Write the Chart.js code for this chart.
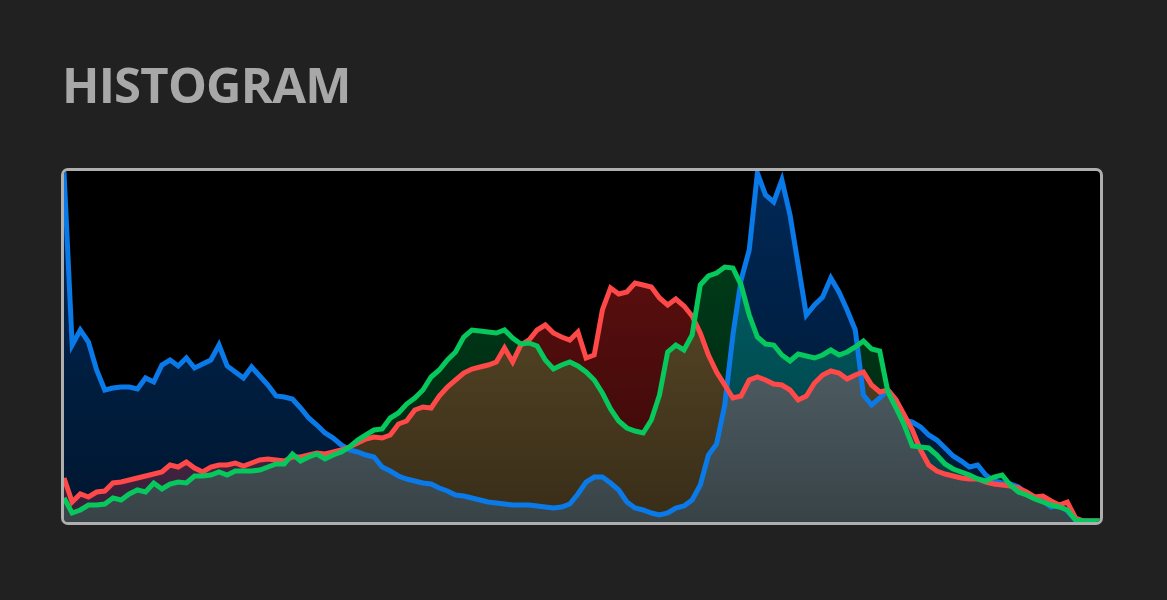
<!DOCTYPE html>
<html>
<head>
<meta charset="utf-8">
<script src="https://cdn.jsdelivr.net/npm/chart.js@4"></script>
<style>
  html, body { margin: 0; padding: 0; background: #212121; }
  body { width: 1167px; height: 600px; position: relative; overflow: hidden; }
  .title {
    position: absolute; left: 62px; top: 59px;
    font-family: "Open Sans", "Noto Sans", sans-serif;
    font-weight: 700; font-size: 49px; line-height: 50px;
    color: #a8a8a8; letter-spacing: -0.8px;
  }
  .frame {
    position: absolute; left: 61px; top: 168px;
    width: 1042px; height: 357px; box-sizing: border-box;
    border: 3px solid #aeaeae; border-radius: 7px;
    background: #000; overflow: hidden;
  }
  .frame canvas { display: block; }
</style>
</head>
<body>
<div class="title">HISTOGRAM</div>
<div class="frame"><canvas id="chartHistogram" width="1036" height="351"></canvas></div>
<script>
// 128 bins, values (pixel height above the baseline)
const bins = Array.from({ length: 128 }, (_, i) => i);

const blueValues = [
  349, 176, 191, 179, 151, 131, 133, 134, 134, 132,
  143, 139, 156, 161, 155, 163, 153, 157, 161, 176,
  155, 149, 143, 154, 145, 136, 125, 124, 122, 113,
  103, 96, 88, 83, 76, 71, 69, 66, 64, 54,
  50, 45, 42, 40, 38, 37, 33, 30, 26, 25,
  23, 21, 19, 18, 17, 16, 16, 16, 15, 14,
  13, 14, 17, 27, 39, 44, 44, 38, 31, 19,
  13, 11, 8, 6, 8, 13, 15, 21, 36, 66,
  77, 116, 186, 241, 271, 348, 326, 319, 341, 306,
  256, 206, 216, 224, 243, 229, 211, 191, 126, 116,
  123, 131, 121, 101, 99, 94, 86, 81, 73, 65,
  60, 54, 56, 46, 40, 38, 37, 34, 27, 24,
  20, 14, 16, 10, 1, 0, 0, 0,
];

const redValues = [
  43, 19, 27, 24, 29, 30, 38, 39, 41, 43,
  45, 47, 49, 56, 54, 59, 53, 49, 54, 56,
  56, 58, 55, 58, 61, 62, 61, 60, 64, 64,
  66, 68, 67, 69, 71, 74, 78, 82, 84, 83,
  86, 97, 100, 111, 114, 113, 125, 134, 141, 148,
  152, 154, 156, 159, 173, 159, 176, 181, 191, 196,
  188, 184, 181, 189, 163, 166, 211, 233, 227, 229,
  238, 236, 234, 223, 216, 222, 215, 205, 188, 166,
  149, 136, 123, 125, 141, 144, 141, 137, 136, 131,
  121, 125, 138, 146, 150, 148, 142, 146, 149, 136,
  129, 131, 121, 106, 91, 71, 56, 50, 47, 45,
  43, 42, 42, 39, 37, 36, 35, 33, 29, 24,
  25, 20, 16, 19, 3, 0, 0, 0,
];

const greenValues = [
  23, 8, 11, 16, 16, 17, 23, 21, 27, 31,
  29, 38, 32, 37, 39, 38, 45, 45, 46, 49,
  46, 50, 50, 50, 51, 54, 57, 57, 67, 60,
  64, 67, 62, 66, 69, 74, 81, 86, 91, 92,
  103, 108, 117, 123, 131, 144, 151, 161, 169, 184,
  191, 190, 189, 188, 191, 183, 177, 178, 175, 161,
  152, 156, 159, 155, 149, 141, 128, 112, 100, 93,
  90, 88, 101, 126, 169, 176, 171, 186, 236, 245,
  248, 254, 253, 236, 206, 184, 177, 176, 166, 160,
  167, 165, 163, 166, 171, 166, 169, 174, 180, 172,
  170, 129, 113, 96, 75, 74, 73, 66, 57, 52,
  49, 46, 42, 40, 44, 46, 36, 29, 26, 22,
  19, 16, 14, 11, 1, 0, 0, 0,
];

// fill gets brighter toward the top of the plot
function fillGradient(rgb, topAlpha, bottomAlpha) {
  return (ctx) => {
    const area = ctx.chart.chartArea;
    if (!area) return `rgba(${rgb},${bottomAlpha})`;
    const g = ctx.chart.ctx.createLinearGradient(0, area.top, 0, area.bottom);
    g.addColorStop(0, `rgba(${rgb},${topAlpha})`);
    g.addColorStop(1, `rgba(${rgb},${bottomAlpha})`);
    return g;
  };
}

// fills add up where channels overlap; lines are drawn normally on top.
// filler paints every area in its beforeDatasetsDraw, which runs before ours.
const additiveFills = {
  id: 'additiveFills',
  beforeDraw(chart) {
    chart.ctx.globalCompositeOperation = 'lighter';
  },
  beforeDatasetsDraw(chart) {
    chart.ctx.globalCompositeOperation = 'source-over';
  },
};

function channel(label, values, line, fillRgb) {
  return {
    label,
    data: values,
    borderColor: line,
    borderWidth: 5,
    backgroundColor: fillGradient(fillRgb, 0.4, 0.22),
    fill: 'start',
    tension: 0,
    pointRadius: 0,
  };
}

new Chart(document.getElementById('chartHistogram'), {
  type: 'line',
  data: {
    labels: bins,
    // first dataset is drawn last, so green sits on top and blue underneath
    datasets: [
      channel('Green', greenValues, '#06c85c', '0,165,70'),
      channel('Red', redValues, '#ff4848', '255,40,40'),
      channel('Blue', blueValues, '#0a7ae8', '0,100,215'),
    ],
  },
  options: {
    responsive: false,
    animation: false,
    layout: { padding: 0 },
    plugins: {
      legend: { display: false },
      tooltip: { enabled: false },
      filler: { drawTime: 'beforeDatasetsDraw' },
    },
    scales: {
      x: { display: false, offset: false },
      y: { display: false, min: -1, max: 350 },
    },
  },
  plugins: [additiveFills],
});
</script>
</body>
</html>
